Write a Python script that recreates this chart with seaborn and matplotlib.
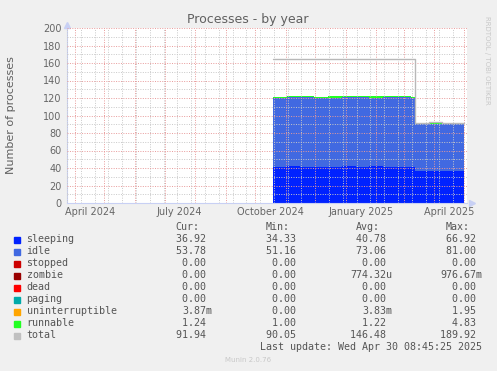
import numpy as np
import pandas as pd
import seaborn as sns
import matplotlib.dates as mdates
from matplotlib import pyplot as plt
from matplotlib.patches import Rectangle

W, H = 497, 371

dates = pd.to_datetime([
    "2024-10-19 12:00", "2024-11-02 00:00", "2024-11-16 00:00", "2024-11-30 00:00",
    "2024-12-14 00:00", "2024-12-28 00:00", "2025-01-11 00:00", "2025-01-25 00:00",
    "2025-02-08 00:00", "2025-02-22 00:00", "2025-03-08 00:00", "2025-03-12 12:00",
    "2025-03-26 00:00", "2025-04-09 00:00", "2025-04-23 00:00", "2025-05-01 00:00",
])
sleeping = [41.4, 42.1, 41.6, 41.3, 41.7, 41.9, 41.5, 42.0, 41.6, 41.4, 41.5,
            36.9, 37.0, 36.8, 37.1, 36.92]
idle = [78.9, 78.6, 79.0, 79.2, 78.8, 78.7, 79.1, 78.5, 79.0, 79.2, 79.0,
        53.9, 53.7, 53.9, 53.6, 53.78]
runnable = [1.2, 1.3, 1.2, 1.2, 1.3, 1.2, 1.2, 1.4, 1.2, 1.2, 1.2,
            1.2, 1.3, 1.2, 1.2, 1.24]
total = [164.3, 165.0, 164.6, 164.8, 164.4, 164.7, 165.1, 164.5, 164.9, 164.6, 164.4,
         91.9, 92.1, 91.8, 92.0, 91.94]

# legend table
names = ["sleeping", "idle", "stopped", "zombie", "dead", "paging",
         "uninterruptible", "runnable", "total"]
colors = ["#0022ff", "#4169e1", "#cc0000", "#990000", "#ff0000", "#00aaaa",
          "#ffa500", "#22ff22", "#c0c0c0"]
cur = ["36.92", "53.78", "0.00", "0.00", "0.00", "0.00", "3.87m", "1.24", "91.94"]
mins = ["34.33", "51.16", "0.00", "0.00", "0.00", "0.00", "0.00", "1.00", "90.05"]
avgs = ["40.78", "73.06", "0.00", "774.32u", "0.00", "0.00", "3.83m", "1.22", "146.48"]
maxs = ["66.92", "81.00", "0.00", "976.67m", "0.00", "0.00", "1.95", "4.83", "189.92"]

x_labels = ["April 2024", "July 2024", "October 2024", "January 2025", "April 2025"]
x_label_dates = pd.to_datetime(["2024-04-16", "2024-07-16", "2024-10-16",
                                "2025-01-16", "2025-04-16"])

sns.set_style("white")
plt.rcParams["font.family"] = ["DejaVu Sans"]

fig = plt.figure(figsize=(W / 100, H / 100), dpi=100)
fig.patch.set_facecolor("#f0f0f0")
ax = fig.add_axes([67 / W, 1 - 203 / H, 400 / W, 175 / H])
ax.set_facecolor("white")


def px(x, y):
    return x / W, 1 - y / H


# stacked areas
s = np.array(sleeping)
i = np.array(idle)
r = np.array(runnable)
ax.fill_between(dates, 0, s, step="post", color=colors[0], lw=0, zorder=2)
ax.fill_between(dates, s, s + i, step="post", color=colors[1], lw=0, zorder=2)
ax.fill_between(dates, s + i, s + i + r, step="post", color=colors[7], lw=0, zorder=2)
sns.lineplot(x=dates, y=total, ax=ax, color="#b8b8b8", lw=1,
             drawstyle="steps-post", estimator=None, zorder=3)

ax.set_xlim(pd.Timestamp("2024-03-27 12:00"), pd.Timestamp("2025-05-01 12:00"))
ax.set_ylim(0, 200)
ax.set_xlabel("")
ax.set_ylabel("")

# grids
ax.xaxis.set_major_locator(mdates.MonthLocator())
ax.set_xticks(pd.date_range("2024-03-24", "2025-05-05", freq="14D"), minor=True)
ax.xaxis.set_major_formatter(plt.NullFormatter())
ax.set_yticks(range(0, 201, 20))
ax.set_yticks(range(0, 201, 10), minor=True)
ax.grid(which="minor", color="#c8c8c8", lw=0.7, ls=(0, (1, 1.5)))
ax.grid(which="major", color="#e89a9a", lw=0.7, ls=(0, (1, 1.5)))
ax.set_axisbelow(False)
ax.tick_params(which="major", length=2, width=0.7, color="#e89a9a",
               labelsize=7, labelcolor="#666666", pad=2)
ax.tick_params(which="minor", length=1.5, width=0.7, color="#c8c8c8")

for d, lab in zip(x_label_dates, x_labels):
    ax.text(mdates.date2num(d), -0.022, lab, transform=ax.get_xaxis_transform(),
            ha="center", va="top", fontsize=7, color="#666666")

for side in ["top", "right"]:
    ax.spines[side].set_visible(False)
for side in ["left", "bottom"]:
    ax.spines[side].set_color("#c8d0f4")
    ax.spines[side].set_linewidth(0.8)
ax.plot([0], [1.02], marker="^", ms=4, color="#c8d0f4", transform=ax.transAxes,
        clip_on=False)
ax.plot([1.012], [0], marker=">", ms=4, color="#c8d0f4", transform=ax.transAxes,
        clip_on=False)

# texts around the plot
fig.text(*px(248, 19), "Processes - by year", ha="center", va="center",
         fontsize=9, color="#606060")
fig.text(*px(11, 115), "Number of processes", ha="center", va="center",
         rotation=90, fontsize=8, color="#606060")
fig.text(*px(487, 60), "RRDTOOL / TOBI OETIKER", ha="center", va="center",
         rotation=270, fontsize=5, color="#c8c8c8")
fig.text(*px(248, 360), "Munin 2.0.76", ha="center", va="center",
         fontsize=5, color="#c8c8c8")

# legend table
mono = dict(family="DejaVu Sans Mono", fontsize=7.2, color="#555555", va="center")
for x, h in zip([199.5, 289.5, 380, 470], ["Cur:", "Min:", "Avg:", "Max:"]):
    fig.text(*px(x, 227), h, ha="right", **mono)


def fmt(v):
    return v if v[-1].isalpha() else v + " "


for k, name in enumerate(names):
    y = 239.5 + 12 * k
    fig.add_artist(Rectangle(px(14, y + 3), 6 / W, 6 / H, color=colors[k],
                             transform=fig.transFigure))
    fig.text(*px(26.5, y), name, ha="left", **mono)
    for x, col in zip([212, 302, 392, 482.5], [cur, mins, avgs, maxs]):
        fig.text(*px(x, y), fmt(col[k]), ha="right", **mono)

fig.text(*px(482.5, 347.5), "Last update: Wed Apr 30 08:45:25 2025", ha="right", **mono)

fig.savefig("out.png", dpi=100, facecolor=fig.get_facecolor())
